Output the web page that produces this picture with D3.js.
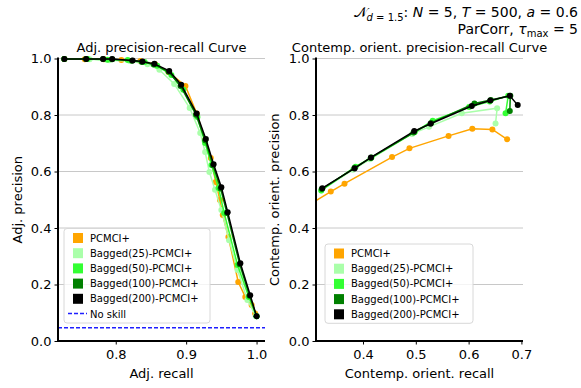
<!DOCTYPE html>
<html>
<head>
<meta charset="utf-8">
<script src="https://cdn.jsdelivr.net/npm/d3@7"></script>
<style>
  body { margin: 0; background: #fff; }
  svg text { font-family: "DejaVu Sans", sans-serif; fill: #000; }
</style>
</head>
<body>
<div id="chart"></div>
<script>
// series names + colours
var methods = ["PCMCI+", "Bagged(25)-PCMCI+", "Bagged(50)-PCMCI+", "Bagged(100)-PCMCI+", "Bagged(200)-PCMCI+"];
var colors = ["#ffa500", "#aaffaa", "#33ff33", "#008000", "#000000"];

// adjacency precision-recall curves, [recall, precision]
var adj_pcmci = [[0.727,0.998],[0.756,0.997],[0.783,0.997],[0.808,0.995],[0.835,0.991],[0.856,0.980],[0.875,0.952],[0.899,0.903],[0.915,0.805],[0.927,0.712],[0.935,0.648],[0.942,0.563],[0.948,0.499],[0.952,0.446],[0.960,0.368],[0.974,0.209],[0.984,0.156],[0.993,0.127],[0.998,0.097]];
var adj_b25 = [[0.727,0.998],[0.763,0.997],[0.791,0.994],[0.820,0.991],[0.845,0.980],[0.862,0.960],[0.883,0.910],[0.905,0.825],[0.920,0.736],[0.927,0.669],[0.933,0.598],[0.941,0.535],[0.950,0.464],[0.961,0.357],[0.973,0.251],[0.987,0.145],[0.999,0.088]];
var adj_b50 = [[0.727,0.998],[0.760,0.998],[0.788,0.996],[0.817,0.995],[0.841,0.988],[0.859,0.974],[0.879,0.942],[0.896,0.889],[0.916,0.793],[0.927,0.701],[0.936,0.623],[0.946,0.542],[0.954,0.453],[0.973,0.269],[0.989,0.156],[1.000,0.088]];
var adj_b100 = [[0.727,0.998],[0.758,0.998],[0.782,0.998],[0.795,0.997],[0.823,0.992],[0.837,0.988],[0.854,0.979],[0.875,0.953],[0.892,0.903],[0.914,0.801],[0.927,0.711],[0.938,0.622],[0.949,0.540],[0.958,0.453],[0.976,0.272],[0.990,0.160],[1.000,0.088]];
var adj_b200 = [[0.727,0.998],[0.758,0.998],[0.782,0.998],[0.795,0.998],[0.824,0.993],[0.838,0.989],[0.855,0.981],[0.876,0.956],[0.893,0.907],[0.915,0.805],[0.928,0.715],[0.939,0.626],[0.950,0.544],[0.959,0.456],[0.977,0.275],[0.991,0.162],[1.000,0.088]];

// contemporaneous orientation precision-recall curves, [recall, precision]
var ori_pcmci = [[0.281,0.463],[0.339,0.529],[0.365,0.557],[0.455,0.651],[0.488,0.682],[0.562,0.726],[0.607,0.751],[0.645,0.749],[0.673,0.714]];
var ori_b25 = [[0.321,0.533],[0.381,0.606],[0.413,0.643],[0.493,0.733],[0.525,0.758],[0.587,0.806],[0.654,0.824],[0.651,0.770]];
var ori_b50 = [[0.321,0.533],[0.386,0.617],[0.416,0.650],[0.498,0.740],[0.532,0.780],[0.601,0.828],[0.640,0.848],[0.675,0.868],[0.670,0.806]];
var ori_b100 = [[0.322,0.538],[0.384,0.613],[0.415,0.648],[0.496,0.738],[0.529,0.772],[0.611,0.841],[0.642,0.853],[0.679,0.868],[0.678,0.814]];
var ori_b200 = [[0.323,0.541],[0.384,0.611],[0.415,0.650],[0.497,0.743],[0.528,0.769],[0.606,0.832],[0.641,0.851],[0.678,0.868],[0.693,0.835]];

var no_skill = 0.047;

var adj_xticks = [0.8, 0.9, 1.0];
var ori_xticks = [0.4, 0.5, 0.6, 0.7];
var yticks = [0.0, 0.2, 0.4, 0.6, 0.8, 1.0];

var W = 581, H = 388;
var svg = d3.select("#chart").append("svg").attr("width", W).attr("height", H);

var top_y = 58.5, bottom_y = 341;

function build_panel(id, x0, x1, xdomain, xticks, series, title, xlabel, ylabel, ylabel_x, legend) {
  var x = d3.scaleLinear().domain(xdomain).range([x0, x1]);
  var y = d3.scaleLinear().domain([0, 1]).range([bottom_y, top_y]);

  var g = svg.append("g").attr("id", id);

  svg.append("clipPath").attr("id", id + "_clip")
    .append("rect").attr("x", x0).attr("y", top_y - 6).attr("width", x1 - x0).attr("height", bottom_y - top_y + 6);

  // grid
  g.selectAll(".grid").data(yticks).enter().append("line")
    .attr("x1", x0).attr("x2", x1)
    .attr("y1", function(d) { return y(d); }).attr("y2", function(d) { return y(d); })
    .attr("stroke", "#c8c8c8").attr("stroke-width", 1);

  var line = d3.line().x(function(d) { return x(d[0]); }).y(function(d) { return y(d[1]); });
  var plot = g.append("g").attr("clip-path", "url(#" + id + "_clip)");

  if (legend.noskill) {
    plot.append("line")
      .attr("x1", x0).attr("x2", x1)
      .attr("y1", y(no_skill)).attr("y2", y(no_skill))
      .attr("stroke", "#1f1fff").attr("stroke-width", 1.5)
      .attr("stroke-dasharray", "4,2");
  }

  series.forEach(function(s, i) {
    plot.append("path").datum(s)
      .attr("d", line).attr("fill", "none")
      .attr("stroke", colors[i]).attr("stroke-width", 1.5);
    plot.selectAll(".pt" + i).data(s).enter().append("circle")
      .attr("cx", function(d) { return x(d[0]); })
      .attr("cy", function(d) { return y(d[1]); })
      .attr("r", 3).attr("fill", colors[i]);
  });

  // axes
  var xAxis = d3.axisBottom(x).tickValues(xticks).tickFormat(d3.format(".1f")).tickSize(3.5).tickPadding(3);
  var yAxis = d3.axisLeft(y).tickValues(yticks).tickFormat(d3.format(".1f")).tickSize(3.5).tickPadding(3);

  var gx = g.append("g").attr("transform", "translate(0," + bottom_y + ")").call(xAxis);
  var gy = g.append("g").attr("transform", "translate(" + x0 + ",0)").call(yAxis);
  [gx, gy].forEach(function(a) {
    a.select(".domain").remove();
    a.selectAll("line").attr("stroke", "#000").attr("stroke-width", 1);
    a.selectAll("text").style("font-size", "13px").style("font-family", "DejaVu Sans");
  });
  gx.selectAll("text").attr("dy", "0.85em");

  g.append("line").attr("x1", x0).attr("x2", x0).attr("y1", top_y - 1).attr("y2", bottom_y + 1)
    .attr("stroke", "#000").attr("stroke-width", 2);
  g.append("line").attr("x1", x0 - 1).attr("x2", x1).attr("y1", bottom_y).attr("y2", bottom_y)
    .attr("stroke", "#000").attr("stroke-width", 2);

  // titles / labels
  g.append("text").attr("x", (x0 + x1) / 2).attr("y", 51.5)
    .attr("text-anchor", "middle").style("font-size", "13px").text(title);
  g.append("text").attr("x", (x0 + x1) / 2).attr("y", 378)
    .attr("text-anchor", "middle").style("font-size", "13px").text(xlabel);
  g.append("text").attr("transform", "translate(" + ylabel_x + "," + ((top_y + bottom_y) / 2) + ") rotate(-90)")
    .attr("text-anchor", "middle").style("font-size", "13px").text(ylabel);

  // legend
  var lg = g.append("g");
  var n = methods.length + (legend.noskill ? 1 : 0);
  lg.append("rect").attr("x", legend.x).attr("y", legend.y)
    .attr("width", legend.w).attr("height", 18.5 + (n - 1) * 15.2)
    .attr("rx", 3).attr("fill", "#fff").attr("fill-opacity", 0.8)
    .attr("stroke", "#d8d8d8").attr("stroke-width", 1);
  methods.forEach(function(m, i) {
    var cy = legend.y + 9 + i * 15.2;
    lg.append("rect").attr("x", legend.x + 9).attr("y", cy - 4.5)
      .attr("width", 10).attr("height", 10).attr("fill", colors[i]);
    lg.append("text").attr("x", legend.x + 26).attr("y", cy + 4)
      .style("font-size", "10px").text(m);
  });
  if (legend.noskill) {
    var cy = legend.y + 9 + methods.length * 15.2;
    lg.append("line").attr("x1", legend.x + 4).attr("x2", legend.x + 23)
      .attr("y1", cy).attr("y2", cy)
      .attr("stroke", "#1f1fff").attr("stroke-width", 1.5).attr("stroke-dasharray", "4,2");
    lg.append("text").attr("x", legend.x + 26).attr("y", cy + 4)
      .style("font-size", "10px").text("No skill");
  }
}

build_panel("adj", 58, 265, [0.718, 1.012], adj_xticks,
  [adj_pcmci, adj_b25, adj_b50, adj_b100, adj_b200],
  "Adj. precision-recall Curve", "Adj. recall", "Adj. precision", 22,
  {x: 64, y: 228.5, w: 146, noskill: true});

build_panel("ori", 316, 523, [0.311, 0.703], ori_xticks,
  [ori_pcmci, ori_b25, ori_b50, ori_b100, ori_b200],
  "Contemp. orient. precision-recall Curve", "Contemp. orient. recall", "Contemp. orient. precision", 279,
  {x: 325, y: 244, w: 148, noskill: false});

// suptitle
var st1 = svg.append("text").attr("x", 578).attr("y", 17).attr("text-anchor", "end").style("font-size", "14px");
st1.append("tspan").text("𝒩");
st1.append("tspan").attr("dy", 4).style("font-size", "10px").style("font-style", "italic").text("d");
st1.append("tspan").style("font-size", "10px").text(" = 1.5");
st1.append("tspan").attr("dy", -4).text(": ");
st1.append("tspan").style("font-style", "italic").text("N");
st1.append("tspan").text(" = 5, ");
st1.append("tspan").style("font-style", "italic").text("T");
st1.append("tspan").text(" = 500, ");
st1.append("tspan").style("font-style", "italic").text("a");
st1.append("tspan").text(" = 0.6");

var st2 = svg.append("text").attr("x", 578).attr("y", 34).attr("text-anchor", "end").style("font-size", "14px");
st2.append("tspan").text("ParCorr, ");
st2.append("tspan").style("font-style", "italic").text("τ");
st2.append("tspan").attr("dy", 3).style("font-size", "10px").text("max");
st2.append("tspan").attr("dy", -3).text(" = 5");
</script>
</body>
</html>
